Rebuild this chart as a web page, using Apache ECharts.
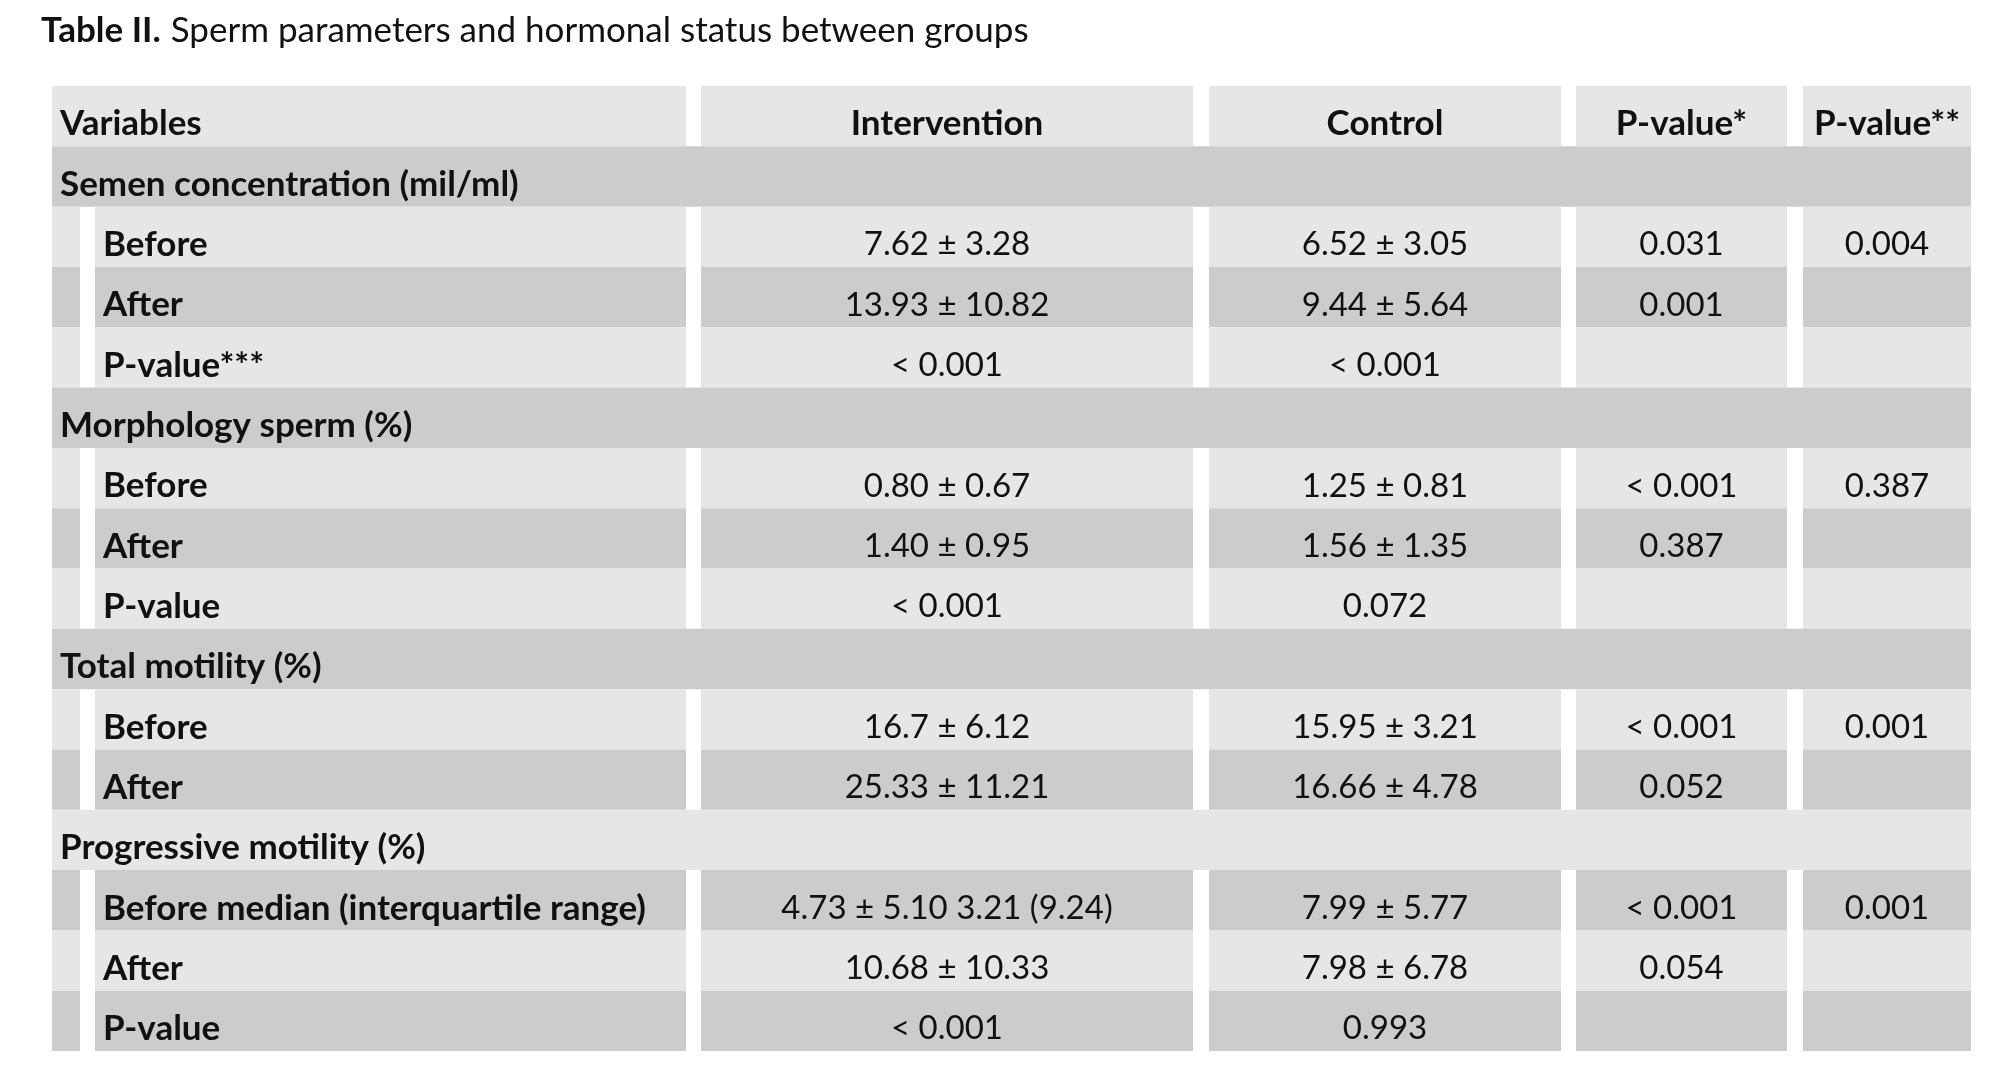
<!DOCTYPE html>
<html>
<head>
<meta charset="utf-8">
<title>Table II</title>
<script src="https://cdn.jsdelivr.net/npm/echarts@6/dist/echarts.min.js"></script>
<style>
  html, body { margin: 0; padding: 0; background: #fff; }
  #chart { width: 2000px; height: 1090px; }
</style>
</head>
<body>
<div id="chart"></div>
<script>
// ---- data ----
var titleBold = "Table II.";
var titleText = "Sperm parameters and hormonal status between groups";

var headers = ["Variables", "Intervention", "Control", "P-value*", "P-value**"];

// row labels below the header; sections get their own full-width row
var rowLabels = [
  "Semen concentration (mil/ml)", "Before", "After", "P-value***",
  "Morphology sperm (%)", "Before", "After", "P-value",
  "Total motility (%)", "Before", "After",
  "Progressive motility (%)", "Before median (interquartile range)", "After", "P-value"
];
var sectionRows = [0, 4, 8, 11];

var intervention = [
  "", "7.62 \u00b1 3.28", "13.93 \u00b1 10.82", "< 0.001",
  "", "0.80 \u00b1 0.67", "1.40 \u00b1 0.95", "< 0.001",
  "", "16.7 \u00b1 6.12", "25.33 \u00b1 11.21",
  "", "4.73 \u00b1 5.10 3.21 (9.24)", "10.68 \u00b1 10.33", "< 0.001"
];
var control = [
  "", "6.52 \u00b1 3.05", "9.44 \u00b1 5.64", "< 0.001",
  "", "1.25 \u00b1 0.81", "1.56 \u00b1 1.35", "0.072",
  "", "15.95 \u00b1 3.21", "16.66 \u00b1 4.78",
  "", "7.99 \u00b1 5.77", "7.98 \u00b1 6.78", "0.993"
];
var pBetween = [
  "", "0.031", "0.001", "",
  "", "< 0.001", "0.387", "",
  "", "< 0.001", "0.052",
  "", "< 0.001", "0.054", ""
];
var pChange = [
  "", "0.004", "", "",
  "", "0.387", "", "",
  "", "0.001", "",
  "", "0.001", "", ""
];

// ---- layout (table units along x, one category per row along y) ----
var tableWidth = 1919;
var stripCol = [0, 28];
var labelCol = [43, 634];
var valueCols = [[649, 1141], [1157, 1509], [1524, 1735], [1751, 1919]];
var FONT = "Lato";
var LIGHT = "#e6e6e6";
var DARK = "#cccccc";
var INK = "#111111";

var allRows = [headers[0]].concat(rowLabels);
var rowData = allRows.map(function (label, i) { return [0, i]; });

function cellText(x, y, text, bold, align) {
  return {
    type: "text",
    style: {
      x: x, y: y, text: text,
      fill: INK,
      font: bold ? "bold 35px " + FONT : "normal 33px " + FONT,
      align: align,
      verticalAlign: "middle"
    }
  };
}

function renderItem(params, api) {
  var r = api.value(1);
  var top = api.coord([0, r])[1] - api.size([0, 1])[1] / 2;
  var h = api.size([0, 1])[1];
  var ty = top + h / 2 + 8;
  var fill = r % 2 === 0 ? LIGHT : DARK;
  var xOf = function (v) { return api.coord([v, r])[0]; };
  var kids = [];
  var rect = function (a, b) {
    kids.push({ type: "rect", shape: { x: xOf(a), y: top, width: xOf(b) - xOf(a), height: h }, style: { fill: fill } });
  };

  var idx = r - 1;
  var isSection = idx >= 0 && sectionRows.indexOf(idx) >= 0;

  if (isSection) {
    rect(0, tableWidth);
    kids.push(cellText(xOf(0) + 8, ty, rowLabels[idx], true, "left"));
    return { type: "group", children: kids };
  }

  var vals;
  if (r === 0) {
    rect(0, labelCol[1]);
    kids.push(cellText(xOf(0) + 8, ty, headers[0], true, "left"));
    vals = headers.slice(1);
  } else {
    rect(stripCol[0], stripCol[1]);
    rect(labelCol[0], labelCol[1]);
    kids.push(cellText(xOf(labelCol[0]) + 8, ty, rowLabels[idx], true, "left"));
    vals = [intervention[idx], control[idx], pBetween[idx], pChange[idx]];
  }
  valueCols.forEach(function (c, k) {
    rect(c[0], c[1]);
    if (vals[k]) kids.push(cellText((xOf(c[0]) + xOf(c[1])) / 2, ty, vals[k], r === 0, "center"));
  });
  return { type: "group", children: kids };
}

var chart = echarts.init(document.getElementById("chart"));
chart.setOption({
  animation: false,
  backgroundColor: "#ffffff",
  title: {
    left: 36,
    top: 6,
    text: "{b|" + titleBold + "}  {r|" + titleText + "}",
    textStyle: {
      rich: {
        b: { fontFamily: FONT, fontWeight: "bold", fontSize: 35, color: INK, lineHeight: 40 },
        r: { fontFamily: FONT, fontWeight: "normal", fontSize: 35, color: INK, lineHeight: 40 }
      }
    }
  },
  grid: { left: 52, top: 86, width: tableWidth, height: 965 },
  xAxis: { type: "value", min: 0, max: tableWidth, show: false },
  yAxis: { type: "category", data: allRows, inverse: true, show: false },
  series: [{
    type: "custom",
    silent: true,
    renderItem: renderItem,
    data: rowData
  }]
});
</script>
</body>
</html>
